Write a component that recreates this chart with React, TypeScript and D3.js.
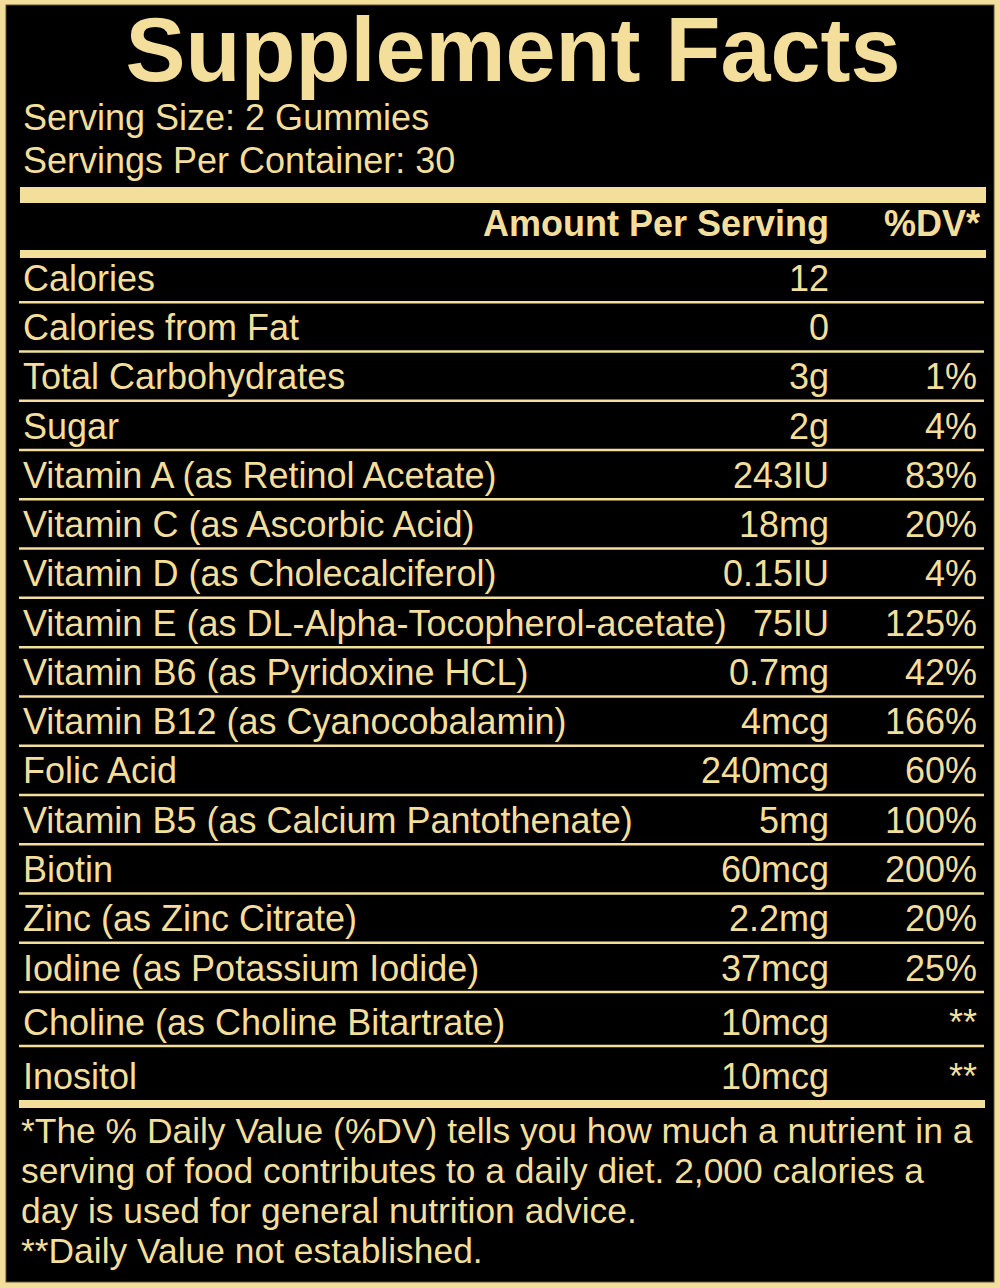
import React, { useRef, useEffect } from "react";
import * as d3 from "d3";

const title = "Supplement Facts";
const servingInfo = ["Serving Size: 2 Gummies", "Servings Per Container: 30"];
const headers = ["Amount Per Serving", "%DV*"];

const nutrients = [
  "Calories",
  "Calories from Fat",
  "Total Carbohydrates",
  "Sugar",
  "Vitamin A (as Retinol Acetate)",
  "Vitamin C (as Ascorbic Acid)",
  "Vitamin D (as Cholecalciferol)",
  "Vitamin E (as DL-Alpha-Tocopherol-acetate)",
  "Vitamin B6 (as Pyridoxine HCL)",
  "Vitamin B12 (as Cyanocobalamin)",
  "Folic Acid",
  "Vitamin B5 (as Calcium Pantothenate)",
  "Biotin",
  "Zinc (as Zinc Citrate)",
  "Iodine (as Potassium Iodide)",
  "Choline (as Choline Bitartrate)",
  "Inositol",
];
const amounts = [
  "12", "0", "3g", "2g", "243IU", "18mg", "0.15IU", "75IU", "0.7mg",
  "4mcg", "240mcg", "5mg", "60mcg", "2.2mg", "37mcg", "10mcg", "10mcg",
];
const dailyValues = [
  "", "", "1%", "4%", "83%", "20%", "4%", "125%", "42%",
  "166%", "60%", "100%", "200%", "20%", "25%", "**", "**",
];

const footnotes = [
  "*The % Daily Value (%DV) tells you how much a nutrient in a",
  "serving of food contributes to a daily diet. 2,000 calories a",
  "day is used for general nutrition advice.",
  "**Daily Value not established.",
];

const GOLD = "#f3df9b";
const FONT = "'Liberation Sans', Arial, sans-serif";

const App = () => {
  const ref = useRef<HTMLDivElement>(null);

  useEffect(() => {
    document.body.style.margin = "0";
    const width = 1000;
    const height = 1288;
    const left = 20;
    const right = 984;
    const amountX = 829;
    const dvX = 977;

    // rows 0..14 share one height, the last two rows are a bit taller
    const y = d3
      .scaleLinear()
      .domain([0, 15, nutrients.length])
      .range([253, 992, 1100]);

    const svg = d3
      .select(ref.current)
      .append("svg")
      .attr("width", width)
      .attr("height", height)
      .style("display", "block")
      .style("font-family", FONT);

    svg.append("rect").attr("width", width).attr("height", height).attr("fill", GOLD);
    svg
      .append("rect")
      .attr("x", 6)
      .attr("y", 5)
      .attr("width", width - 12)
      .attr("height", height - 11)
      .attr("fill", "#000")
      .attr("stroke", "#5a5030")
      .attr("stroke-width", 1);

    svg
      .append("text")
      .attr("x", 513)
      .attr("y", 81)
      .attr("text-anchor", "middle")
      .attr("fill", GOLD)
      .style("font-size", "90px")
      .style("font-weight", "bold")
      .text(title);

    svg
      .selectAll(".serving")
      .data(servingInfo)
      .enter()
      .append("text")
      .attr("class", "serving")
      .attr("x", 23)
      .attr("y", (d, i) => 130 + i * 43)
      .attr("fill", GOLD)
      .style("font-size", "36px")
      .text((d) => d);

    svg.append("rect").attr("x", left).attr("y", 187).attr("width", 986 - left).attr("height", 16).attr("fill", GOLD);

    svg
      .selectAll(".header")
      .data(headers)
      .enter()
      .append("text")
      .attr("class", "header")
      .attr("x", (d, i) => (i === 0 ? amountX : dvX + 3))
      .attr("y", 236)
      .attr("text-anchor", "end")
      .attr("fill", GOLD)
      .style("font-size", "36px")
      .style("font-weight", "bold")
      .text((d) => d);

    svg.append("rect").attr("x", left).attr("y", 250).attr("width", 986 - left).attr("height", 8).attr("fill", GOLD);

    const rows = svg
      .selectAll(".row")
      .data(nutrients)
      .enter()
      .append("g")
      .attr("class", "row");

    rows
      .append("text")
      .attr("x", 23)
      .attr("y", (d, i) => y(i + 1) - 11.5)
      .attr("fill", GOLD)
      .style("font-size", "36px")
      .text((d) => d);

    rows
      .append("text")
      .attr("x", amountX)
      .attr("y", (d, i) => y(i + 1) - 11.5)
      .attr("text-anchor", "end")
      .attr("fill", GOLD)
      .style("font-size", "36px")
      .text((d, i) => amounts[i]);

    rows
      .append("text")
      .attr("x", dvX)
      .attr("y", (d, i) => y(i + 1) - 11.5)
      .attr("text-anchor", "end")
      .attr("fill", GOLD)
      .style("font-size", "36px")
      .text((d, i) => dailyValues[i]);

    rows
      .filter((d, i) => i < nutrients.length - 1)
      .append("line")
      .attr("x1", left - 1)
      .attr("x2", right)
      .attr("y1", (d, i) => y(i + 1))
      .attr("y2", (d, i) => y(i + 1))
      .attr("stroke", GOLD)
      .attr("stroke-width", 2.5);

    svg
      .append("rect")
      .attr("x", left - 1)
      .attr("y", y(nutrients.length))
      .attr("width", 986 - left)
      .attr("height", 8)
      .attr("fill", GOLD);

    svg
      .selectAll(".footnote")
      .data(footnotes)
      .enter()
      .append("text")
      .attr("class", "footnote")
      .attr("x", 21)
      .attr("y", (d, i) => 1143 + i * 40)
      .attr("fill", GOLD)
      .style("font-size", "35.4px")
      .text((d) => d);

    return () => {
      if (ref.current) ref.current.innerHTML = "";
    };
  }, []);

  return <div ref={ref}></div>;
};

export default App;
